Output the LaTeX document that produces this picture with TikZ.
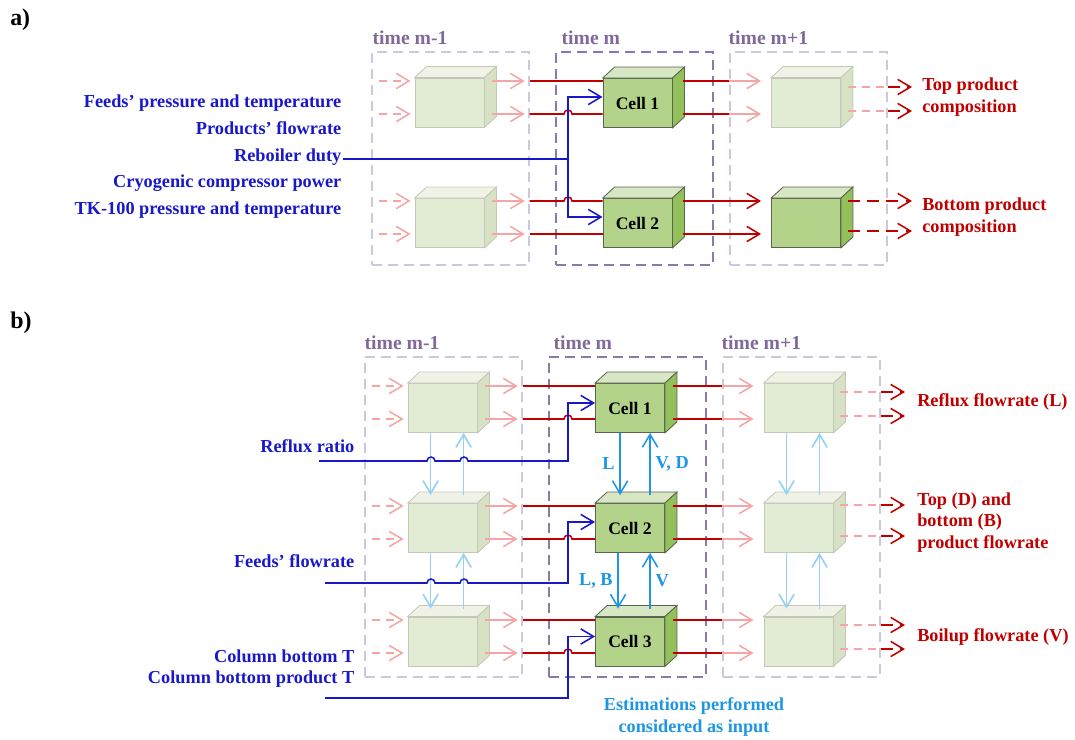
\documentclass[tikz,border=0pt]{standalone}
\usepackage{fontspec}
\setmainfont{Liberation Serif}
\usetikzlibrary{arrows.meta,calc}

\definecolor{inblue}{RGB}{24,24,200}
\definecolor{outred}{RGB}{192,0,0}
\definecolor{fadered}{RGB}{244,165,165}
\definecolor{timepurple}{RGB}{128,105,155}
\definecolor{boxdark}{RGB}{140,120,170}
\definecolor{boxlight}{RGB}{208,198,222}
\definecolor{skyblue}{RGB}{30,150,230}
\definecolor{paleblue}{RGB}{150,210,245}
\definecolor{cellfront}{RGB}{179,211,139}
\definecolor{celltop}{RGB}{215,230,195}
\definecolor{cellside}{RGB}{146,192,90}
\definecolor{cellline}{RGB}{90,100,80}
\definecolor{ghostfront}{RGB}{226,235,211}
\definecolor{ghosttop}{RGB}{240,242,230}
\definecolor{ghostside}{RGB}{214,226,195}
\definecolor{ghostline}{RGB}{195,200,185}

\begin{document}
\begin{tikzpicture}[
                x=0.025cm, y=-0.025cm,
                font=\fontsize{13}{15.5}\selectfont\bfseries,
                flowtip/.style={-{Straight Barb[length=3.2mm,width=3.8mm]}},
                timebox/.style={
                    draw=#1,
                    dash pattern=on 0.25cm off 0.15cm,
                    line width=0.9pt,
                    minimum width=3.925cm,
                    inner sep=0
                },
                timelabel/.style={text=timepurple, anchor=base west, inner sep=0, font=\fontsize{14}{16}\selectfont\bfseries},
                ghost/.style={
                    draw=ghostline,
                    fill=ghostfront,
                    line width=0.6pt,
                    minimum width=1.725cm,
                    minimum height=1.225cm,
                    inner sep=0
                },
                cell/.style={
                    ghost,
                    draw=cellline,
                    fill=cellfront,
                    font=\fontsize{12.5}{14}\selectfont\bfseries
                },
                inlabel/.style={text=inblue, anchor=base east, inner sep=1pt},
                outlabel/.style={text=outred, anchor=west, align=left, inner sep=0},
                redline/.style={draw=outred, line width=1.1pt},
                fadeline/.style={draw=fadered, line width=1.1pt},
                fadedash/.style={fadeline, dash pattern=on 0.2cm off 0.15cm},
                reddash/.style={redline, dash pattern=on 0.3cm off 0.18cm},
                blueline/.style={draw=inblue, line width=1.1pt},
                skyarrow/.style={draw=skyblue, line width=1.1pt, flowtip},
                palearrow/.style={draw=paleblue, line width=1.2pt, flowtip}
            ]
\useasboundingbox (0,0) rectangle (1075,740);

% ---------------- a) ----------------
\node[font=\fontsize{17}{20}\selectfont\bfseries, anchor=base west, inner sep=0] (parta) at (10,26) {a)};

\node[timebox=boxlight, minimum height=5.325cm] (tam1) at (450.5,158.5) {};
\node[timebox=boxdark, minimum height=5.325cm] (tam) at (634.5,158.5) {};
\node[timebox=boxlight, minimum height=5.325cm] (tap1) at (808.5,158.5) {};
\node[timelabel] (lam1) at ([shift={(1,-7)}]tam1.north west) {time m-1};
\node[timelabel] (lam) at ([shift={(6,-7)}]tam.north west) {time m};
\node[timelabel] (lap1) at ([shift={(-1,-7)}]tap1.north west) {time m+1};

\node[ghost] (am1t) at (449.5,102.5) {};
\node[ghost] (am1b) at (449.5,223) {};
\node[cell] (cella1) at (637.5,103) {Cell 1};
\node[cell] (cella2) at (637.5,223) {Cell 2};
\node[ghost] (ap1t) at (806,102.5) {};
\node[cell] (ap1b) at (806,223) {};

\node[inlabel] (fpt) at (343,108) {Feeds’ pressure and temperature};
\node[inlabel] (pfr) at (343,135) {Products’ flowrate};
\node[inlabel] (rbd) at (343,161.5) {Reboiler duty};
\node[inlabel] (ccp) at (343,188) {Cryogenic compressor power};
\node[inlabel] (tkp) at (343,215) {TK-100 pressure and temperature};

\node[outlabel] (topcomp) at (922,97) {Top product\\composition};
\node[outlabel] (botcomp) at (922,217.5) {Bottom product\\composition};

% ---------------- b) ----------------
\node[font=\fontsize{17}{20}\selectfont\bfseries, anchor=base west, inner sep=0] (partb) at (10,329) {b)};

\node[timebox=boxlight, minimum height=8cm] (tbm1) at (443.5,517) {};
\node[timebox=boxdark, minimum height=8cm] (tbm) at (627.5,517) {};
\node[timebox=boxlight, minimum height=8cm] (tbp1) at (801.5,517) {};
\node[timelabel] (lbm1) at ([shift={(0,-7)}]tbm1.north west) {time m-1};
\node[timelabel] (lbm) at ([shift={(5,-7)}]tbm.north west) {time m};
\node[timelabel] (lbp1) at ([shift={(-1,-7)}]tbp1.north west) {time m+1};

\node[ghost] (bm1r1) at (442.5,408) {};
\node[ghost] (bm1r2) at (442.5,528) {};
\node[ghost] (bm1r3) at (442.5,641.5) {};
\node[cell] (cellb1) at (630,408) {Cell 1};
\node[cell] (cellb2) at (630,528) {Cell 2};
\node[cell] (cellb3) at (630,641.5) {Cell 3};
\node[ghost] (bp1r1) at (798.5,408) {};
\node[ghost] (bp1r2) at (798.5,528) {};
\node[ghost] (bp1r3) at (798.5,641.5) {};

\node[inlabel] (rfr) at (356,452) {Reflux ratio};
\node[inlabel] (ffr) at (356,567) {Feeds’ flowrate};
\node[inlabel] (cbt) at (356,662) {Column bottom T};
\node[inlabel] (cbpt) at (356,683) {Column bottom product T};

\node[outlabel] (reflout) at (917,402) {Reflux flowrate (L)};
\node[outlabel] (prodout) at (917,522.5) {Top (D) and\\bottom (B)\\product flowrate};
\node[outlabel] (boilout) at (917,637) {Boilup flowrate (V)};
\node[text=skyblue, align=center] (estim) at (694,717) {Estimations performed\\considered as input};

% cube faces
\foreach \n in {am1t,am1b,ap1t,bm1r1,bm1r2,bm1r3,bp1r1,bp1r2,bp1r3} {
    \filldraw[fill=ghosttop, draw=ghostline, line width=0.6pt] (\n.north west) -- ++(12,-11) -- ([shift={(12,-11)}]\n.north east) -- (\n.north east) -- cycle;
    \filldraw[fill=ghostside, draw=ghostline, line width=0.6pt] (\n.north east) -- ++(12,-11) -- ([shift={(12,-11)}]\n.south east) -- (\n.south east) -- cycle;
}
\foreach \n in {cella1,cella2,ap1b,cellb1,cellb2,cellb3} {
    \filldraw[fill=celltop, draw=cellline, line width=0.6pt] (\n.north west) -- ++(12,-11) -- ([shift={(12,-11)}]\n.north east) -- (\n.north east) -- cycle;
    \filldraw[fill=cellside, draw=cellline, line width=0.6pt] (\n.north east) -- ++(12,-11) -- ([shift={(12,-11)}]\n.south east) -- (\n.south east) -- cycle;
}

% a) flows, upper row
\foreach \y in {81,114} {
    \draw[fadedash, flowtip, shorten >=0.1cm] (379,\y) -- (am1t.west |- 0,\y);
    \draw[fadeline, flowtip, shorten >=0.125cm] ($(am1t.east |- 0,\y)+(8,0)$) -- (tam1.east |- 0,\y);
    \draw[redline] ($(cella1.east |- 0,\y)+(11,0)$) -- (tap1.west |- 0,\y);
    \draw[fadeline, flowtip, shorten >=0.25cm] (tap1.west |- 0,\y) -- (ap1t.west |- 0,\y);
}
\draw[redline] (tam1.east |- 0,81) -- (cella1.west |- 0,81);
\draw[redline] (tam1.east |- 0,114) -- (564,114) arc[start angle=180, end angle=0, radius=0.1cm] -- (cella1.west |- 0,114);
\foreach \y in {87,111} {
    \draw[fadedash] ($(ap1t.east |- 0,\y)+(7,0)$) -- (tap1.east |- 0,\y);
    \draw[reddash, flowtip] (tap1.east |- 0,\y) -- (912,\y);
}

% a) flows, lower row
\foreach \y in {201,234} {
    \draw[fadedash, flowtip, shorten >=0.1cm] (379,\y) -- (am1b.west |- 0,\y);
    \draw[fadeline, flowtip, shorten >=0.125cm] ($(am1b.east |- 0,\y)+(8,0)$) -- (tam1.east |- 0,\y);
    \draw[redline, flowtip, shorten >=0.25cm] ($(cella2.east |- 0,\y)+(11,0)$) -- (ap1b.west |- 0,\y);
}
\draw[redline] (tam1.east |- 0,201) -- (564,201) arc[start angle=180, end angle=0, radius=0.1cm] -- (cella2.west |- 0,201);
\draw[redline] (tam1.east |- 0,234) -- (cella2.west |- 0,234);
\foreach \y in {201,231} {
    \draw[reddash, flowtip] ($(ap1b.east |- 0,\y)+(7,0)$) -- (912,\y);
}

% a) reboiler duty
\coordinate (busa) at (568,159);
\draw[blueline] (rbd.east |- busa) -- (busa);
\draw[blueline, flowtip] (busa) |- ($(cella1.west)+(0,-6)$);
\draw[blueline, flowtip] (busa) |- ($(cella2.west)+(0,-6)$);

% b) flows per row
\foreach \r/\ya/\yb/\oa/\ob in {1/386/419/392/416, 2/506/539/505/536, 3/620/653/625/649} {
    \foreach \y in {\ya,\yb} {
        \draw[fadedash, flowtip, shorten >=0.1cm] (372,\y) -- (bm1r\r.west |- 0,\y);
        \draw[fadeline, flowtip, shorten >=0.125cm] ($(bm1r\r.east |- 0,\y)+(8,0)$) -- (tbm1.east |- 0,\y);
        \draw[redline] ($(cellb\r.east |- 0,\y)+(8,0)$) -- (tbp1.west |- 0,\y);
        \draw[fadeline, flowtip, shorten >=0.25cm] (tbp1.west |- 0,\y) -- (bp1r\r.west |- 0,\y);
    }
    \draw[redline] (tbm1.east |- 0,\ya) -- (cellb\r.west |- 0,\ya);
    \draw[redline] (tbm1.east |- 0,\yb) -- (564,\yb) arc[start angle=180, end angle=0, radius=0.1cm] -- (cellb\r.west |- 0,\yb);
    \foreach \y in {\oa,\ob} {
        \draw[fadedash] ($(bp1r\r.east |- 0,\y)+(7,0)$) -- (tbp1.east |- 0,\y);
        \draw[reddash, flowtip] (tbp1.east |- 0,\y) -- (905,\y);
    }
}

% b) vertical exchanges between rows
\foreach \up/\dn in {1/2,2/3} {
    \draw[palearrow] ($(bm1r\up.south west)+(23,0)$) -- ($(bm1r\dn.north west)+(23,-8)$);
    \draw[palearrow] ($(bm1r\dn.north west)+(56,-8)$) -- ($(bm1r\up.south west)+(56,0)$);
    \draw[palearrow] ($(bp1r\up.south west)+(23,0)$) -- ($(bp1r\dn.north west)+(23,-8)$);
    \draw[palearrow] ($(bp1r\dn.north west)+(56,-8)$) -- ($(bp1r\up.south west)+(56,0)$);
}
\draw[skyarrow] ($(cellb1.south west)+(25,0)$) -- node[left, text=skyblue] {L} ($(cellb2.north west)+(25,-8)$);
\draw[skyarrow] ($(cellb2.north west)+(55,-8)$) -- node[right, text=skyblue] {V, D} ($(cellb1.south west)+(55,0)$);
\draw[skyarrow] ($(cellb2.south west)+(23,0)$) -- node[left, text=skyblue] {L, B} ($(cellb3.north west)+(23,-8)$);
\draw[skyarrow] ($(cellb3.north west)+(55,-8)$) -- node[right, text=skyblue] {V} ($(cellb2.south west)+(55,0)$);

% b) manipulated inputs
\coordinate (rrin) at (319,461);
\coordinate (ffin) at (325,583);
\coordinate (cbin) at (325,698);
\draw[blueline, flowtip] (rrin) -- (427,461) arc[start angle=180, end angle=0, radius=0.1cm] -- (460,461) arc[start angle=180, end angle=0, radius=0.1cm] -- (568,461) |- ($(cellb1.west)+(0,-5)$);
\draw[blueline, flowtip] (ffin) -- (427,583) arc[start angle=180, end angle=0, radius=0.1cm] -- (460,583) arc[start angle=180, end angle=0, radius=0.1cm] -- (568,583) |- ($(cellb2.west)+(0,-6)$);
\draw[blueline, flowtip] (cbin) -- (568,698) |- ($(cellb3.west)+(0,-5)$);

\end{tikzpicture}
\end{document}
